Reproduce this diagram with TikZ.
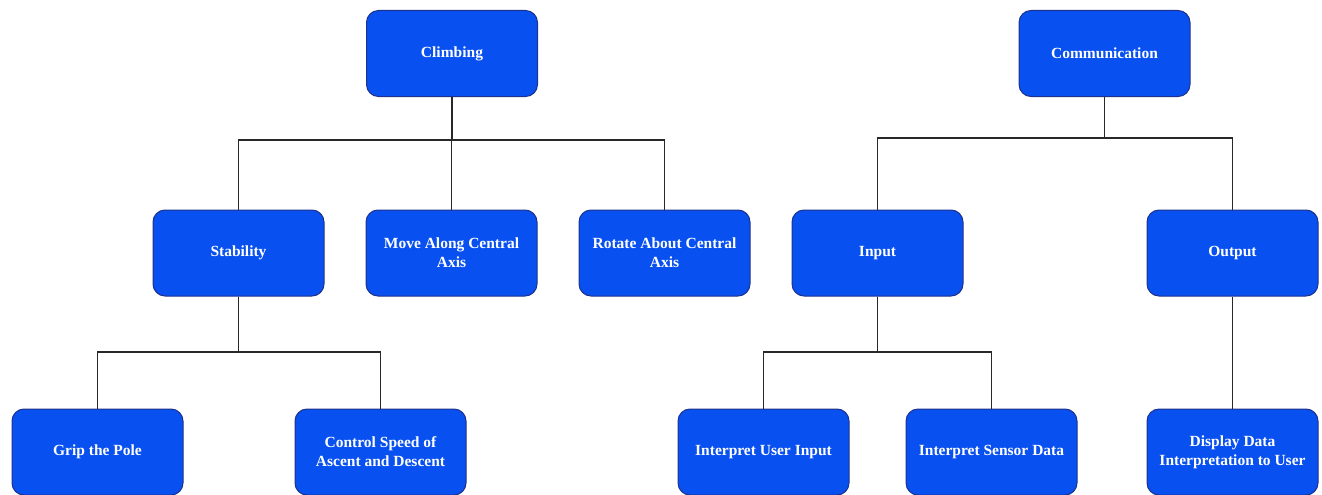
\documentclass[tikz,border=0pt]{standalone}
\usepackage{fontspec}
\setmainfont{Liberation Serif}
\definecolor{boxfill}{RGB}{8,80,240}
\definecolor{boxline}{RGB}{30,50,140}
\definecolor{linkcol}{RGB}{40,40,40}
\begin{document}
\begin{tikzpicture}[x=1pt,y=-1pt,
  box/.style={draw=boxline,line width=1pt,fill=boxfill,rounded corners=12pt,
    minimum width=171pt,minimum height=86pt,inner sep=2pt,align=center,
    text=white,font=\bfseries\fontsize{15.5}{19}\selectfont},
  link/.style={draw=linkcol,line width=1.8pt}]
\useasboundingbox (0,0) rectangle (1322,495);
\node[box] (climb) at (452,53.5) {Climbing};
\node[box] (comm) at (1104.5,53.5) {Communication};
\node[box] (stab) at (238.5,253) {Stability};
\node[box] (move) at (451.5,253) {Move Along Central\\Axis};
\node[box] (rot) at (664.5,253) {Rotate About Central\\Axis};
\node[box] (input) at (877.5,253) {Input};
\node[box] (output) at (1232.5,253) {Output};
\node[box] (grip) at (97.5,452) {Grip the Pole};
\node[box] (speed) at (380.5,452) {Control Speed of\\Ascent and Descent};
\node[box] (user) at (763.5,452) {Interpret User Input};
\node[box] (sensor) at (991.5,452) {Interpret Sensor Data};
\node[box] (disp) at (1232.5,452) {Display Data\\Interpretation to User};
% Climbing tree
\coordinate (cb) at (452,140);
\draw[link] (climb.south) -- (cb);
\draw[link] (stab.north) |- (cb) -| (rot.north);
\draw[link] (move.north) -- (move.north |- cb);
% Communication tree
\coordinate (mb) at (1104.5,138);
\draw[link] (comm.south) -- (mb);
\draw[link] (input.north) |- (mb) -| (output.north);
% Stability tree
\coordinate (sb) at (238.5,352);
\draw[link] (stab.south) -- (sb);
\draw[link] (grip.north) |- (sb) -| (speed.north);
% Input tree
\coordinate (ib) at (877.5,352);
\draw[link] (input.south) -- (ib);
\draw[link] (user.north) |- (ib) -| (sensor.north);
% Output
\draw[link] (output.south) -- (disp.north);
\end{tikzpicture}
\end{document}
